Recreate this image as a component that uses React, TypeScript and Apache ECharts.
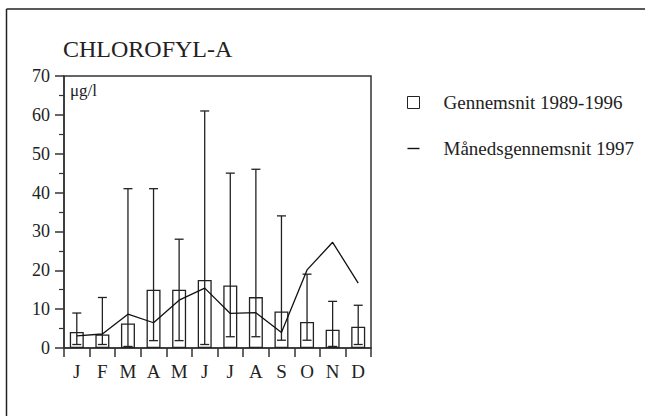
import React, { useEffect, useRef } from "react";
import * as echarts from "echarts";

const months = ["J", "F", "M", "A", "M", "J", "J", "A", "S", "O", "N", "D"];
const mean8996 = [4.1, 3.5, 6.3, 15, 15, 17.5, 16.1, 13.1, 9.4, 6.7, 4.7, 5.5];
const rangeLow = [0.9, 0.9, 0.4, 1.9, 1.9, 0.9, 2.9, 2.9, 2.0, 2.0, 0.4, 0.9];
const rangeHigh = [9, 13, 41, 41, 28, 61, 45, 46, 34, 19, 12, 11];
const monthly1997 = [3.1, 3.6, 8.7, 6.5, 12.3, 15.4, 8.9, 9.1, 4.0, 20.1, 27.2, 16.7];

const FONT = "Liberation Serif";
const INK = "#222";

export default function App() {
  const ref = useRef<HTMLDivElement>(null);
  useEffect(() => {
    if (!ref.current) return;
    const chart = echarts.init(ref.current, undefined, { renderer: "svg" });
    const errData = months.map((_, i) => [i, rangeLow[i], rangeHigh[i]]);
    chart.setOption({
      animation: false,
      backgroundColor: "#fff",
      textStyle: { fontFamily: FONT },
      title: {
        text: "CHLOROFYL-A",
        left: 63,
        top: 37,
        padding: 0,
        textStyle: { fontFamily: FONT, fontSize: 24, fontWeight: "normal", color: INK },
      },
      legend: {
        orient: "vertical",
        left: 407,
        top: 93,
        padding: 0,
        itemWidth: 12,
        itemHeight: 12,
        itemGap: 27,
        itemStyle: { borderWidth: 1 },
        textStyle: { fontFamily: FONT, fontSize: 19, color: INK, padding: [0, 0, 0, 19] },
        data: [
          { name: "Gennemsnit 1989-1996", icon: "rect" },
          { name: "Månedsgennemsnit 1997", icon: "path://M0,0L12,0L12,1.4L0,1.4Z" },
        ],
      },
      grid: {
        left: 64,
        right: 274,
        top: 76,
        bottom: 68,
        show: true,
        borderColor: "#333",
        borderWidth: 1.5,
        backgroundColor: "transparent",
      },
      xAxis: {
        type: "category",
        data: months,
        boundaryGap: true,
        axisLine: { lineStyle: { color: "#333", width: 1.5 } },
        axisTick: { show: true, inside: false, length: 9, interval: 0, lineStyle: { color: "#333", width: 1.5 } },
        axisLabel: { interval: 0, margin: 14, fontFamily: FONT, fontSize: 19, color: INK },
        splitLine: { show: false },
      },
      yAxis: {
        type: "value",
        min: 0,
        max: 70,
        interval: 10,
        name: "μg/l",
        nameLocation: "end",
        nameGap: -23,
        nameTextStyle: { fontFamily: FONT, fontSize: 17, color: INK, align: "left", padding: [0, 0, 0, 6] },
        axisLine: { show: true, lineStyle: { color: "#333", width: 1.5 } },
        axisTick: { show: true, length: 9, lineStyle: { color: "#333", width: 1.5 } },
        minorTick: { show: true, splitNumber: 2, length: 5, lineStyle: { color: "#333", width: 1.2 } },
        axisLabel: { margin: 14, fontFamily: FONT, fontSize: 18, color: INK },
        splitLine: { show: false },
      },
      series: [
        {
          name: "Gennemsnit 1989-1996",
          type: "bar",
          data: mean8996,
          barWidth: 14,
          itemStyle: { color: "#fff", borderColor: "#222", borderWidth: 1.3 },
          z: 2,
        },
        {
          name: "errors",
          type: "custom",
          data: errData,
          encode: { x: 0, y: [1, 2] },
          z: 3,
          renderItem: (params: any, api: any) => {
            const x = api.value(0);
            const lo = api.coord([x, api.value(1)]);
            const hi = api.coord([x, api.value(2)]);
            const hw = 4.5;
            const style = { stroke: "#222", lineWidth: 1.3, fill: "none" };
            return {
              type: "group",
              children: [
                { type: "line", shape: { x1: lo[0], y1: lo[1], x2: hi[0], y2: hi[1] }, style },
                { type: "line", shape: { x1: hi[0] - hw, y1: hi[1], x2: hi[0] + hw, y2: hi[1] }, style },
                { type: "line", shape: { x1: lo[0] - hw, y1: lo[1], x2: lo[0] + hw, y2: lo[1] }, style },
              ],
            };
          },
        },
        {
          name: "Månedsgennemsnit 1997",
          type: "line",
          data: monthly1997,
          symbol: "none",
          color: "#111",
          lineStyle: { color: "#111", width: 1.3 },
          z: 4,
        },
      ],
      graphic: [
        { type: "line", shape: { x1: 6.5, y1: 9, x2: 645, y2: 9 }, style: { stroke: "#222", lineWidth: 1.5 } },
        { type: "line", shape: { x1: 6.5, y1: 9, x2: 6.5, y2: 416 }, style: { stroke: "#222", lineWidth: 1.5 } },
      ],
    });
    return () => chart.dispose();
  }, []);
  return (
    <div
      ref={ref}
      style={{ position: "fixed", left: 0, top: 0, width: 645, height: 416, background: "#fff" }}
    />
  );
}
